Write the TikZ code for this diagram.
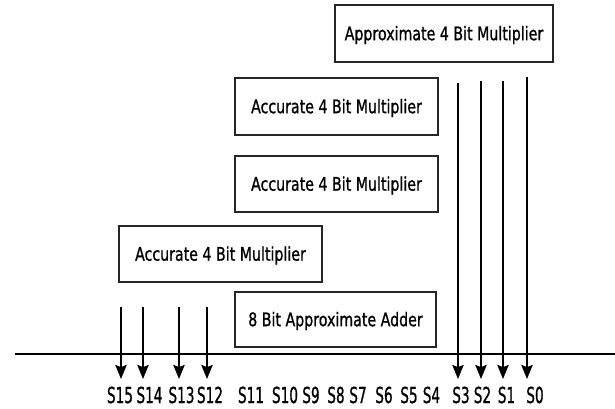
\documentclass[tikz,border=0pt]{standalone}
\usepackage{fontspec}
\usepackage{graphicx}
\setmainfont[FakeBold=1.2]{DejaVu Sans}
\usetikzlibrary{arrows.meta}
\newcommand{\bxt}[1]{\scalebox{0.76}[1]{\fontsize{14pt}{16pt}\selectfont #1}}
\newcommand{\lbt}[1]{\scalebox{0.62}[1]{\fontsize{16.5pt}{19pt}\selectfont #1}}
\begin{document}
\begin{tikzpicture}[x=0.75pt,y=-0.75pt,
  blk/.style={draw=black!85, line width=1.6pt, inner sep=0pt, fill=white, text height=10pt, text depth=0pt},
  bit/.style={anchor=base, inner sep=0pt},
  arr/.style={line width=1.2pt, -{Stealth[length=10.5pt,width=8.5pt,inset=1.5pt]}},
  bus/.style={line width=1.6pt}]
\useasboundingbox (0,0) rectangle (615,408);
% blocks
\node[blk, minimum width=163.5pt, minimum height=42.75pt] (am) at (444,33.5) {\bxt{Approximate 4 Bit Multiplier}};
\node[blk, minimum width=152.25pt, minimum height=42.75pt] (m1) at (336.5,106.5) {\bxt{Accurate 4 Bit Multiplier}};
\node[blk, minimum width=152.25pt, minimum height=42pt] (m2) at (336.5,184) {\bxt{Accurate 4 Bit Multiplier}};
\node[blk, minimum width=152.25pt, minimum height=42pt] (m3) at (220.5,254) {\bxt{Accurate 4 Bit Multiplier}};
\node[blk, minimum width=150.75pt, minimum height=41.25pt] (ad) at (335.5,319.5) {\bxt{8 Bit Approximate Adder}};
% bus line
\coordinate (busL) at (15,354);
\coordinate (busR) at (615,354);
\draw[bus] (busL) -- (busR);
% arrow ends
\coordinate (a15) at (121,307); \coordinate (b15) at (121,379);
\coordinate (a14) at (143,307); \coordinate (b14) at (143,379);
\coordinate (a13) at (179,307); \coordinate (b13) at (179,379);
\coordinate (a12) at (207,307); \coordinate (b12) at (207,379);
\coordinate (a3) at (458,83); \coordinate (b3) at (458,379);
\coordinate (a2) at (481,81); \coordinate (b2) at (481,379);
\coordinate (a1) at (503,81); \coordinate (b1) at (503,379);
\coordinate (a0) at (527,77); \coordinate (b0) at (527,379);
\foreach \i in {15,14,13,12,3,2,1,0} {\draw[arr] (a\i) -- (b\i);}
% labels
\node[bit] (s15) at (120,403) {\lbt{S15}};
\node[bit] (s14) at (149.5,403) {\lbt{S14}};
\node[bit] (s13) at (181.5,403) {\lbt{S13}};
\node[bit] (s12) at (210,403) {\lbt{S12}};
\node[bit] (s11) at (251,403) {\lbt{S11}};
\node[bit] (s10) at (285,403) {\lbt{S10}};
\node[bit] (s9) at (311,403) {\lbt{S9}};
\node[bit] (s8) at (336,403) {\lbt{S8}};
\node[bit] (s7) at (358,403) {\lbt{S7}};
\node[bit] (s6) at (384,403) {\lbt{S6}};
\node[bit] (s5) at (409,403) {\lbt{S5}};
\node[bit] (s4) at (431.5,403) {\lbt{S4}};
\node[bit] (s3) at (461,403) {\lbt{S3}};
\node[bit] (s2) at (482.5,403) {\lbt{S2}};
\node[bit] (s1) at (506.5,403) {\lbt{S1}};
\node[bit] (s0) at (535,403) {\lbt{S0}};
\end{tikzpicture}
\end{document}
